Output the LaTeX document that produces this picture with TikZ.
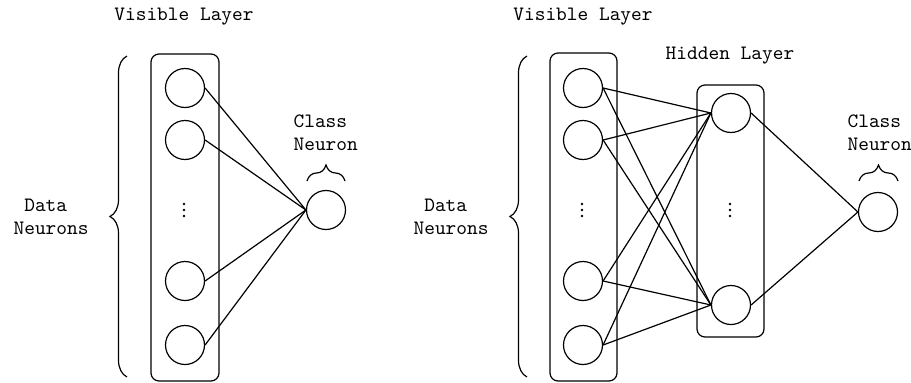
\documentclass[tikz,border=0pt]{standalone}
\usetikzlibrary{decorations.pathreplacing}

\tikzset{
  neuron/.style={draw,circle,minimum size=19.5pt,inner sep=0pt},
  layerbox/.style={draw,rounded corners=4pt,inner sep=0pt},
  lbl/.style={font=\ttfamily\fontsize{10.2}{11.3}\selectfont,align=left,inner sep=0pt},
  dotsv/.style={minimum width=3pt,minimum height=9pt,inner sep=0pt,
    path picture={\foreach \k in {-3,0,3}
      \fill ([yshift=\k pt]path picture bounding box.center) circle (0.65pt);}},
  curly/.style={decorate,decoration={brace,amplitude=#1}},
}

\begin{document}
\begin{tikzpicture}[x=0.5pt,y=0.5pt,line width=0.6pt]
\useasboundingbox (0,0) rectangle (911,382);
% left net: visible layer -> class neuron
\node[layerbox,minimum width=34pt,minimum height=163.5pt] (boxA) at (185,164.5) {};
\node[neuron] (vA1) at (185,294) {};
\node[neuron] (vA2) at (185,242) {};
\node[dotsv] (dA) at (184,172) {};
\node[neuron] (vA3) at (185,101) {};
\node[neuron] (vA4) at (185,37) {};
\node[neuron] (clsA) at (326,172) {};
\foreach \i in {1,...,4}
  \draw (vA\i.east) -- (clsA.west);
% labels and braces
\node[lbl] (visA) at (184,365) {Visible Layer};
\node[lbl,anchor=west] (datA) at (13,165) {\ Data\\Neurons};
\node[lbl,anchor=west] (labA) at (293,249) {Class\\Neuron};
\draw[curly=8.5pt] (127,5) -- (127,326);
\draw[curly=8pt] (307,201) -- (345,201);

% right net: visible layer -> hidden layer -> class neuron
\node[layerbox,minimum width=33.5pt,minimum height=164pt] (boxB) at (583.5,165) {};
\node[layerbox,minimum width=33.5pt,minimum height=126pt] (boxH) at (730.5,171) {};
\node[neuron] (vB1) at (583,294) {};
\node[neuron] (vB2) at (583,242) {};
\node[dotsv] (dB) at (582,172) {};
\node[neuron] (vB3) at (583,101) {};
\node[neuron] (vB4) at (583,37) {};
\node[neuron] (hB1) at (731,269) {};
\node[dotsv] (dH) at (730,172) {};
\node[neuron] (hB2) at (731,77) {};
\node[neuron] (clsB) at (878,170) {};
\foreach \i in {1,...,4}
  \foreach \j in {1,2}
    \draw (vB\i.east) -- (hB\j.west);
\foreach \j in {1,2}
  \draw (hB\j.east) -- (clsB.west);
% labels and braces
\node[lbl] (visB) at (583,365) {Visible Layer};
\node[lbl] (hidB) at (730,326) {Hidden Layer};
\node[lbl,anchor=west] (datB) at (413,165) {\ Data\\Neurons};
\node[lbl,anchor=west] (labB) at (847,249) {Class\\Neuron};
\draw[curly=8.5pt] (527,5) -- (527,326);
\draw[curly=8pt] (859,201) -- (898,201);
\end{tikzpicture}
\end{document}
